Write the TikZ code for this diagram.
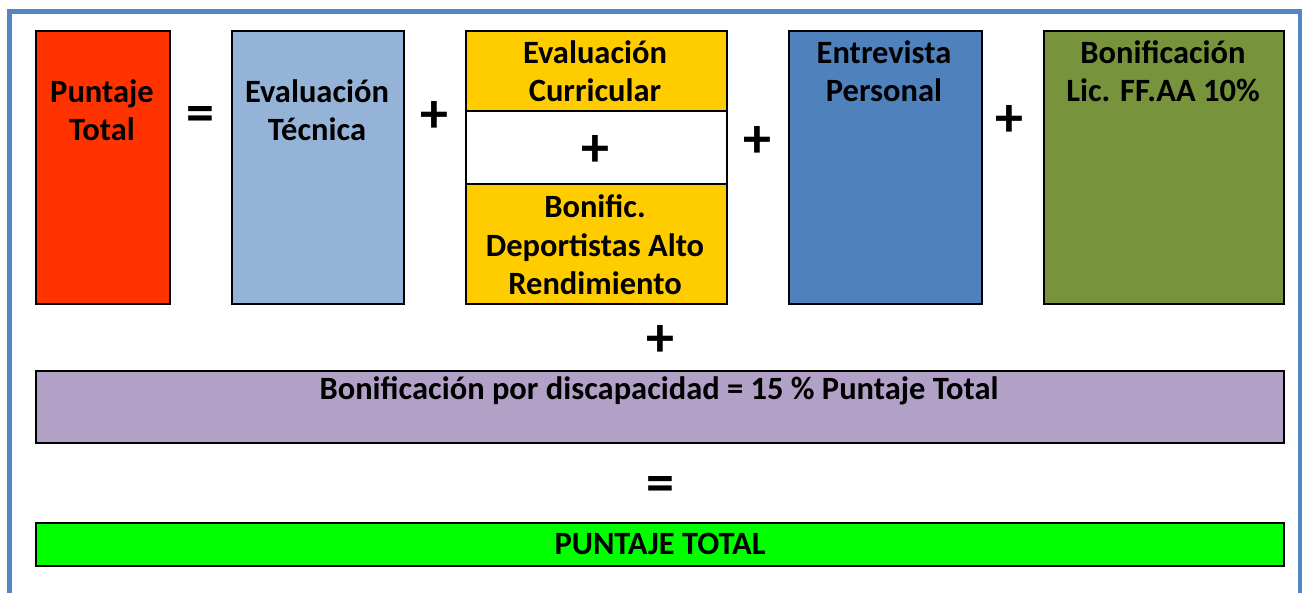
\documentclass[tikz,border=0pt]{standalone}
\usepackage{fontspec}
\setmainfont{Carlito}
\definecolor{cRed}{HTML}{FF3300}
\definecolor{cLightBlue}{HTML}{95B3D7}
\definecolor{cYellow}{HTML}{FFCC00}
\definecolor{cBlue}{HTML}{4F81BD}
\definecolor{cOlive}{HTML}{77933C}
\definecolor{cPurple}{HTML}{B2A1C7}
\definecolor{cGreen}{HTML}{00FF00}
\definecolor{cFrame}{HTML}{5585C2}
\begin{document}
\begin{tikzpicture}[x=1pt,y=-1pt,
  box/.style={draw=black, line width=2pt, rectangle, inner sep=0pt, anchor=north west},
  lbl/.style={align=center, inner sep=0pt, font=\bfseries\fontsize{32.5}{38.5}\selectfont},
  op/.style={inner sep=0pt, font=\bfseries\fontsize{56}{56}\selectfont}]
\useasboundingbox (0,0) rectangle (1307,593);
\fill[white] (0,0) rectangle (1307,593);
\draw[cFrame, line width=4.5pt] (9.5,640) -- (9.5,11.5) -- (1300,11.5) -- (1300,640);
% top row boxes
\node[box, fill=cRed, minimum width=134, minimum height=273] (pt) at (35,30) {};
\node[box, fill=cLightBlue, minimum width=172, minimum height=273] (et) at (231,30) {};
\node[box, fill=cYellow, minimum width=261, minimum height=80] (ec) at (465,30) {};
\node[box, fill=white, minimum width=261, minimum height=73] (mid) at (465,110) {};
\node[box, fill=cYellow, minimum width=261, minimum height=120] (bd) at (465,183) {};
\node[box, fill=cBlue, minimum width=193, minimum height=273] (ep) at (788,30) {};
\node[box, fill=cOlive, minimum width=240, minimum height=273] (bl) at (1043,30) {};
% bars
\node[box, fill=cPurple, minimum width=1248, minimum height=72] (bdisc) at (35,370) {};
\node[box, fill=cGreen, minimum width=1248, minimum height=43] (tot) at (35,522) {};
% labels
\node[lbl] (tpt) at (102,110) {Puntaje\\Total};
\node[lbl] (tet) at (317,110) {Evaluación\\Técnica};
\node[lbl] (tec) at (595,71) {Evaluación\\Curricular};
\node[lbl] (tbd) at (595,245) {Bonific.\\Deportistas Alto\\Rendimiento};
\node[lbl] (tep) at (884,71) {Entrevista\\Personal};
\node[lbl] (tbl) at (1163,71) {Bonificación\\Lic. FF.AA 10\%};
\node[lbl] (tbdisc) at (659,391) {Bonificación por discapacidad = 15 \% Puntaje Total};
\node[lbl] (ttot) at (660,544) {PUNTAJE TOTAL};
% operators
\node[op] (o1) at (200,119) {=};
\node[op] (o2) at (434,117) {+};
\node[op] (o3) at (595,151) {+};
\node[op] (o4) at (757,142) {+};
\node[op] (o5) at (1009,121) {+};
\node[op] (o6) at (660,341) {+};
\node[op] (o7) at (660,489) {=};
\end{tikzpicture}
\end{document}
